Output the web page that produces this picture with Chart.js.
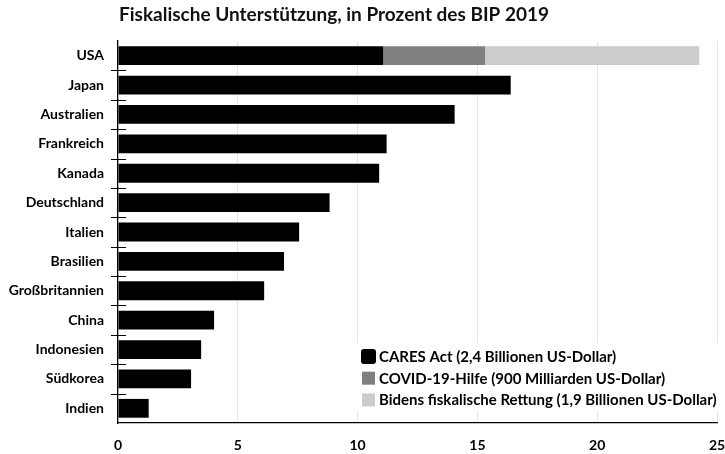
<!DOCTYPE html>
<html><head><meta charset="utf-8">
<script src="https://cdn.jsdelivr.net/npm/chart.js@4/dist/chart.umd.min.js"></script>
<style>html,body{margin:0;padding:0;background:#fff}#wrap{width:725px;height:454px}</style>
</head><body><div id="wrap"><canvas id="c" width="725" height="454"></canvas></div>
<script>
const chartTitle = 'Fiskalische Unterstützung, in Prozent des BIP 2019';
const countries = ['USA','Japan','Australien','Frankreich','Kanada','Deutschland','Italien','Brasilien','Großbritannien','China','Indonesien','Südkorea','Indien'];
const seriesNames = ['CARES Act (2,4 Billionen US-Dollar)','COVID-19-Hilfe (900 Milliarden US-Dollar)','Bidens fiskalische Rettung (1,9 Billionen US-Dollar)'];
const caresAct     = [11.07,16.39,14.05,11.21,10.90,8.83,7.56,6.93,6.10,4.01,3.47,3.05,1.28];
const covidHilfe   = [4.25,null,null,null,null,null,null,null,null,null,null,null,null];
const bidenRettung = [8.94,null,null,null,null,null,null,null,null,null,null,null,null];
const xTickValues  = [0,5,10,15,20,25];
const seriesColors = ['#000000','#808080','#cccccc'];

const FONT = 'Lato';

const titlePlugin = {
  id: 'customTitle',
  afterDraw(chart) {
    const ctx = chart.ctx;
    ctx.save();
    ctx.font = 'bold 19px ' + FONT;
    ctx.fillStyle = '#111';
    ctx.textBaseline = 'alphabetic';
    ctx.textAlign = 'left';
    ctx.fillText(chartTitle, chart.chartArea.left + 1, 21);
    ctx.restore();
  }
};

const crossTicks = {
  id: 'crossTicks',
  afterDatasetsDraw(chart) {
    const ys = chart.scales.y, ctx = chart.ctx;
    const x0 = chart.chartArea.left;
    ctx.save();
    ctx.strokeStyle = '#000';
    ctx.lineWidth = 1;
    for (let i = 0; i < countries.length - 1; i++) {
      const y = Math.round((ys.getPixelForValue(i) + ys.getPixelForValue(i + 1)) / 2) + 0.5;
      ctx.beginPath();
      ctx.moveTo(x0 - 7, y);
      ctx.lineTo(x0 + 8, y);
      ctx.stroke();
    }
    ctx.restore();
  }
};

const boxLegend = {
  id: 'boxLegend',
  afterDatasetsDraw(chart) {
    const ctx = chart.ctx, ca = chart.chartArea;
    const left = ca.right - 362, top = ca.bottom - 80;
    ctx.save();
    ctx.fillStyle = '#fff';
    ctx.fillRect(left, top, 366, 67);
    ctx.font = 'bold 15px ' + FONT;
    ctx.textBaseline = 'middle';
    ctx.textAlign = 'left';
    chart.data.datasets.forEach((ds, i) => {
      const cy = top + 13 + i * 21.7;
      ctx.fillStyle = ds.backgroundColor;
      if (i === 0) {
        ctx.beginPath();
        ctx.roundRect(left + 6, cy - 7, 15, 15, 3);
        ctx.fill();
      } else {
        ctx.fillRect(left + 7, cy - 6, 13, 13);
      }
      ctx.fillStyle = '#000';
      ctx.fillText(ds.label, left + 24, cy + 1);
    });
    ctx.restore();
  }
};

new Chart(document.getElementById('c'), {
  type: 'bar',
  data: {
    labels: countries,
    datasets: [
      { label: seriesNames[0], data: caresAct, backgroundColor: seriesColors[0] },
      { label: seriesNames[1], data: covidHilfe, backgroundColor: seriesColors[1] },
      { label: seriesNames[2], data: bidenRettung, backgroundColor: seriesColors[2] }
    ]
  },
  options: {
    indexAxis: 'y',
    responsive: false,
    animation: false,
    devicePixelRatio: 1,
    layout: { padding: { top: 41, right: 8, left: 0, bottom: 0 } },
    datasets: { bar: { categoryPercentage: 1, barPercentage: 0.64, borderWidth: 0 } },
    plugins: { legend: { display: false }, title: { display: false }, tooltip: { enabled: false } },
    scales: {
      x: {
        stacked: true, min: 0, max: 25,
        afterFit(s) { s.height = 31; s.paddingLeft = 0; s.paddingRight = 0; },
        afterBuildTicks(s) { s.ticks = xTickValues.map(v => ({ value: v })); },
        grid: { drawTicks: false, color: ctx => (ctx.tick && ctx.tick.value === 0) ? 'rgba(0,0,0,0)' : '#e6e6e6', lineWidth: 1 },
        border: { display: true, color: '#000', width: 1.3 },
        ticks: { padding: 14, color: '#000', font: { family: FONT, size: 14, weight: 'bold' } }
      },
      y: {
        stacked: true,
        afterFit(s) { s.width = 118; s.paddingTop = 0; s.paddingBottom = 0; },
        grid: { display: false, drawTicks: false },
        border: { display: true, color: '#000', width: 1.3 },
        ticks: { padding: 14, color: '#000', font: { family: FONT, size: 14, weight: 'bold' } }
      }
    }
  },
  plugins: [titlePlugin, crossTicks, boxLegend]
});
</script></body></html>
